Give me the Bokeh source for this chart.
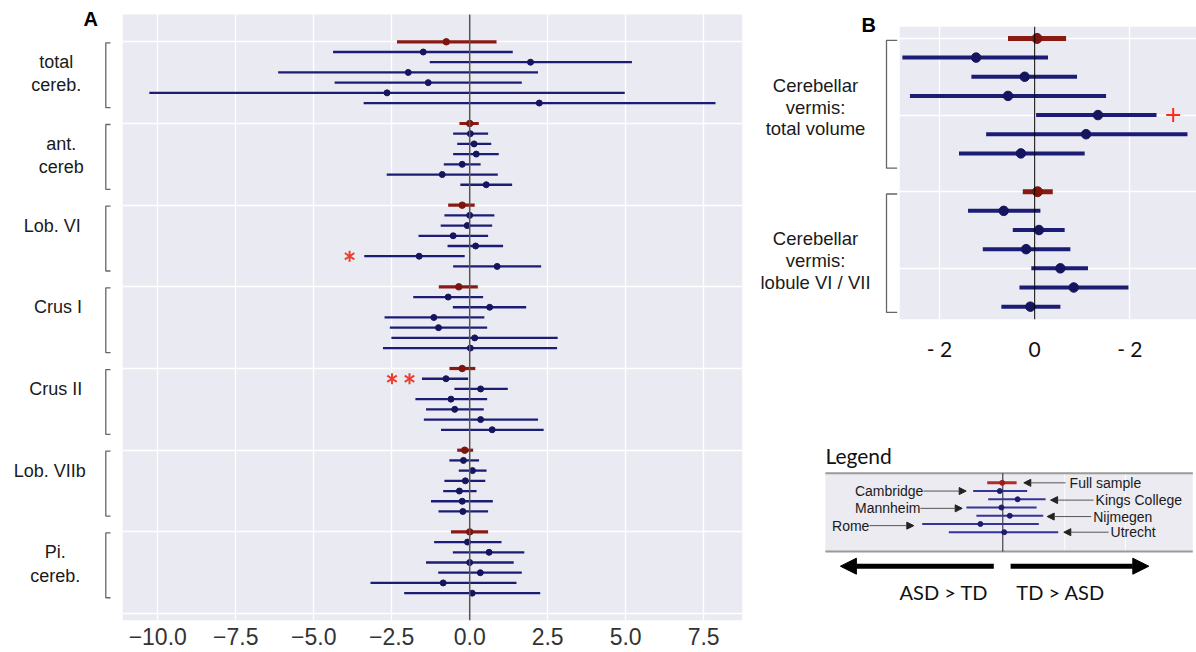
from bokeh.plotting import figure
from bokeh.models import Range1d, Arrow, NormalHead, BoxAnnotation, ColumnDataSource
from bokeh.layouts import row, column
from bokeh.embed import file_html
from bokeh.resources import INLINE
from bokeh.core.properties import value
import math

# ---------------- DATA ----------------
sites = ["Full sample", "Cambridge", "Kings College", "Mannheim", "Nijmegen", "Rome", "Utrecht"]

regions_A = ["total cereb.", "ant. cereb", "Lob. VI", "Crus I", "Crus II", "Lob. VIIb", "Pi. cereb."]
label_lines_A = [["total", "cereb."], ["ant.", "cereb"], ["Lob. VI"], ["Crus I"],
                 ["Crus II"], ["Lob. VIIb"], ["Pi.", "cereb."]]
est_A = [
    [-0.75, -1.49, 1.95, -1.97, -1.33, -2.65, 2.23],
    [0.00, 0.02, 0.14, 0.21, -0.24, -0.88, 0.53],
    [-0.24, 0.00, -0.08, -0.53, 0.19, -1.62, 0.88],
    [-0.35, -0.69, 0.64, -1.15, -1.00, 0.16, 0.02],
    [-0.24, -0.76, 0.35, -0.60, -0.48, 0.35, 0.72],
    [-0.16, -0.20, 0.09, -0.14, -0.33, -0.24, -0.22],
    [0.00, -0.07, 0.62, 0.00, 0.34, -0.85, 0.08],
]
lo_A = [
    [-2.33, -4.38, -1.28, -6.14, -4.33, -10.27, -3.40],
    [-0.33, -0.53, -0.40, -0.53, -0.83, -2.66, -0.30],
    [-0.69, -0.81, -0.93, -1.64, -0.71, -3.38, -0.53],
    [-0.99, -1.81, -0.54, -2.73, -2.56, -2.51, -2.78],
    [-0.65, -1.53, -0.49, -1.74, -1.40, -1.47, -0.92],
    [-0.40, -0.65, -0.35, -0.81, -0.85, -1.24, -1.00],
    [-0.60, -1.14, -0.54, -1.40, -1.01, -3.18, -2.10],
]
hi_A = [
    [0.86, 1.38, 5.20, 2.19, 1.67, 4.97, 7.88],
    [0.29, 0.59, 0.69, 0.93, 0.35, 0.90, 1.36],
    [0.16, 0.79, 0.72, 0.59, 1.07, -0.16, 2.29],
    [0.26, 0.43, 1.81, 0.47, 0.56, 2.82, 2.80],
    [0.18, -0.05, 1.22, 0.56, 0.45, 2.19, 2.37],
    [0.11, 0.30, 0.54, 0.50, 0.22, 0.74, 0.59],
    [0.59, 1.02, 1.75, 1.41, 1.67, 1.50, 2.26],
]
# significance asterisks: (region index, site index, x position)
stars_A = [(2, 5, -3.85), (4, 1, -2.49), (4, 1, -1.93)]
xticks_A = [-10.0, -7.5, -5.0, -2.5, 0.0, 2.5, 5.0, 7.5]
xtick_labels_A = ["\u221210.0", "\u22127.5", "\u22125.0", "\u22122.5", "0.0", "2.5", "5.0", "7.5"]

regions_B = ["Cerebellar vermis: total volume", "Cerebellar vermis: lobule VI / VII"]
label_lines_B = [["Cerebellar", "vermis:", "total volume"], ["Cerebellar", "vermis:", "lobule VI / VII"]]
est_B = [[0.05, -1.23, -0.21, -0.56, 1.33, 1.08, -0.29],
         [0.06, -0.65, 0.09, -0.18, 0.54, 0.82, -0.09]]
lo_B = [[-0.56, -2.78, -1.33, -2.62, 0.03, -1.02, -1.59],
        [-0.25, -1.40, -0.46, -1.09, -0.07, -0.32, -0.70]]
hi_B = [[0.66, 0.28, 0.89, 1.50, 2.56, 3.21, 1.05],
        [0.38, 0.12, 0.63, 0.75, 1.12, 1.97, 0.54]]
plus_B = [(0, 4, 2.91)]
xticks_B = [-2, 0, 2]
xtick_labels_B = ["- 2", "0", "- 2"]

# legend illustration values
est_L = [-0.03, -0.15, 0.74, -0.07, 0.35, -1.12, 0.07]
lo_L = [-0.78, -1.48, -0.73, -1.82, -1.32, -4.03, -2.70]
hi_L = [0.69, 1.22, 2.14, 1.69, 2.02, 1.80, 2.77]

# ---------------- STYLE ----------------
BG = "#EAEAF2"
BLUE = "#1c1c74"
BLUE_DOT = "#15155f"
RED = "#8a1a12"
RED_DOT = "#7d150f"
STAR = "#f03c2d"
SANS = "Liberation Sans"
CAL = "Lato"

GROUP_A = 8
GROUP_B = 8

def build_rows(est, lo, hi, step):
    red = dict(y=[], x=[], lo=[], hi=[])
    blue = dict(y=[], x=[], lo=[], hi=[])
    for g in range(len(est)):
        for s in range(len(est[g])):
            d = red if s == 0 else blue
            d["y"].append(g * step + s)
            d["x"].append(est[g][s])
            d["lo"].append(lo[g][s])
            d["hi"].append(hi[g][s])
    return ColumnDataSource(red), ColumnDataSource(blue)

def style_xaxis(ax, font, size, standoff, color="#333333", alpha=1.0):
    ax.axis_line_color = None
    ax.major_tick_line_color = None
    ax.minor_tick_line_color = None
    ax.major_label_text_font = font
    ax.major_label_text_font_size = size
    ax.major_label_text_color = color
    ax.major_label_text_alpha = alpha
    ax.major_label_standoff = standoff

# ---------------- PANEL A ----------------
H_A = 652
BOT_A = 32
ROW_TOP_A, ROW_BOT_A = -2.67, 56.68       # extent of the grey plotting area
yA = Range1d(ROW_BOT_A, -4.045)           # frame reaches the top of the page
pA = figure(width=633, height=H_A, x_range=Range1d(-11.13, 8.745), y_range=yA,
            output_backend="svg", toolbar_location=None, y_axis_location=None,
            min_border_left=0, min_border_right=13, min_border_top=0, min_border_bottom=BOT_A,
            background_fill_color="white", border_fill_color="white", outline_line_color=None)
pA.add_layout(BoxAnnotation(top=ROW_TOP_A, bottom=ROW_BOT_A, fill_color=BG, fill_alpha=1,
                            line_color=None, level="image"))
pA.xaxis.ticker = xticks_A
pA.xaxis.major_label_overrides = {t: l for t, l in zip(xticks_A, xtick_labels_A)}
style_xaxis(pA.xaxis[0], SANS, "23px", 1)
pA.xgrid.grid_line_color = "white"
pA.xgrid.grid_line_width = 1.3
pA.ygrid.ticker = [g * GROUP_A for g in range(len(regions_A) + 1)]
pA.ygrid.grid_line_color = "white"
pA.ygrid.grid_line_width = 1.3

redA, blueA = build_rows(est_A, lo_A, hi_A, GROUP_A)
pA.segment(x0="lo", y0="y", x1="hi", y1="y", source=blueA, line_color=BLUE, line_width=2.3)
pA.segment(x0="lo", y0="y", x1="hi", y1="y", source=redA, line_color=RED, line_width=3.2)
pA.scatter(x="x", y="y", source=blueA, size=6, fill_color=BLUE_DOT, line_color=BLUE_DOT)
pA.scatter(x="x", y="y", source=redA, size=6.5, fill_color=RED_DOT, line_color=RED_DOT)
pA.segment(x0=[0], y0=[ROW_TOP_A], x1=[0], y1=[ROW_BOT_A], line_color="#555555", line_width=1.5)
sx = [s[2] for s in stars_A]
sy = [s[0] * GROUP_A + s[1] for s in stars_A]
pA.scatter(x=sx, y=sy, marker="y", size=11, line_color=STAR, line_width=2)
pA.scatter(x=sx, y=sy, marker="y", size=11, angle=math.pi, line_color=STAR, line_width=2)

# label column for A (shares the y range; invisible axis keeps the frames aligned)
lA = figure(width=122, height=H_A, x_range=Range1d(0, 122), y_range=yA,
            output_backend="svg", toolbar_location=None, y_axis_location=None,
            min_border_left=0, min_border_right=0, min_border_top=0, min_border_bottom=BOT_A,
            background_fill_color="white", border_fill_color="white", outline_line_color=None)
lA.xaxis.ticker = [61]
lA.xaxis.major_label_overrides = {61: "0.0"}
style_xaxis(lA.xaxis[0], SANS, "23px", 1, alpha=0)
lA.xgrid.visible = False
lA.ygrid.visible = False
cx_A = [55.8, 60.8, 51.8, 57.5, 55.3, 49.3, 54.8]
tx, ty, tt = [], [], []
bx, by = [], []
for g, lines in enumerate(label_lines_A):
    for i, ln in enumerate(lines):
        tx.append(cx_A[g]); ty.append(g * GROUP_A + 2.0 + 2.28 * i); tt.append(ln)
    top = g * GROUP_A + 0.1
    bot = g * GROUP_A + 6.45
    bx.append([110, 105.3, 105.3, 110]); by.append([top, top, bot, bot])
lA.text(x=tx, y=ty, text=tt, text_align="center", text_baseline="middle",
        text_font=value(SANS), text_font_size="18px", text_color="#1a1a1a")
lA.multi_line(xs=bx, ys=by, line_color="#666666", line_width=1.3)
lA.text(x=[90.3], y=[-2.2], text=["A"], text_align="center", text_baseline="middle",
        text_font=value(SANS), text_font_size="20px", text_font_style="bold", text_color="black")

# ---------------- PANEL B ----------------
H_B = 363
BOT_B = 35
ROW_TOP_B, ROW_BOT_B = -0.61, 14.67
yB = Range1d(ROW_BOT_B, -1.98)
pB = figure(width=297, height=H_B, x_range=Range1d(-2.84, 3.40), y_range=yB,
            output_backend="svg", toolbar_location=None, y_axis_location=None,
            min_border_left=0, min_border_right=0, min_border_top=0, min_border_bottom=BOT_B,
            background_fill_color="white", border_fill_color="white", outline_line_color=None)
pB.add_layout(BoxAnnotation(top=ROW_TOP_B, bottom=ROW_BOT_B, fill_color=BG, fill_alpha=1,
                            line_color=None, level="image"))
pB.xaxis.ticker = xticks_B
pB.xaxis.major_label_overrides = {t: l for t, l in zip(xticks_B, xtick_labels_B)}
style_xaxis(pB.xaxis[0], CAL, "21px", 10, color="#111111")
pB.xgrid.grid_line_color = "white"
pB.xgrid.grid_line_width = 1.3
pB.ygrid.ticker = [0, 4, 8, 12]
pB.ygrid.grid_line_color = "white"
pB.ygrid.grid_line_width = 1.3

redB, blueB = build_rows(est_B, lo_B, hi_B, GROUP_B)
pB.segment(x0="lo", y0="y", x1="hi", y1="y", source=blueB, line_color=BLUE, line_width=4)
pB.segment(x0="lo", y0="y", x1="hi", y1="y", source=redB, line_color=RED, line_width=5)
pB.scatter(x="x", y="y", source=blueB, size=9.5, fill_color=BLUE_DOT, line_color=BLUE_DOT)
pB.scatter(x="x", y="y", source=redB, size=10, fill_color=RED_DOT, line_color=RED_DOT)
pB.segment(x0=[0], y0=[ROW_TOP_B], x1=[0], y1=[ROW_BOT_B], line_color="black", line_width=1)
pB.scatter(x=[p[2] for p in plus_B], y=[p[0] * GROUP_B + p[1] for p in plus_B],
           marker="cross", size=14, line_color="#ff2a1a", line_width=2)

lB = figure(width=144, height=H_B, x_range=Range1d(0, 144), y_range=yB,
            output_backend="svg", toolbar_location=None, y_axis_location=None,
            min_border_left=0, min_border_right=0, min_border_top=0, min_border_bottom=BOT_B,
            background_fill_color="white", border_fill_color="white", outline_line_color=None)
lB.xaxis.ticker = [72]
lB.xaxis.major_label_overrides = {72: "0"}
style_xaxis(lB.xaxis[0], CAL, "21px", 10, alpha=0)
lB.xgrid.visible = False
lB.ygrid.visible = False
br_B = [(0.1, 6.77), (8.12, 14.3)]
tx, ty, tt, bx, by = [], [], [], [], []
for g, lines in enumerate(label_lines_B):
    for i, ln in enumerate(lines):
        tx.append(60); ty.append(g * GROUP_B + 2.44 + 1.14 * i); tt.append(ln)
    bx.append([141.7, 131, 131, 141.7]); by.append([br_B[g][0], br_B[g][0], br_B[g][1], br_B[g][1]])
lB.text(x=tx, y=ty, text=tt, text_align="center", text_baseline="middle",
        text_font=value(SANS), text_font_size="18.5px", text_color="#1a1a1a")
lB.multi_line(xs=bx, ys=by, line_color="#666666", line_width=1.3)
lB.text(x=[113.3], y=[-0.71], text=["B"], text_align="center", text_baseline="middle",
        text_font=value(SANS), text_font_size="20px", text_font_style="bold", text_color="black")

# ---------------- LEGEND ----------------
H_L = H_A - H_B
leg = figure(width=441, height=H_L, x_range=Range1d(-12.365, 9.685),
             y_range=Range1d(-14.5 + H_L / 8.23, -14.5),
             output_backend="svg", toolbar_location=None, x_axis_location=None, y_axis_location=None,
             min_border=0, background_fill_color="white", border_fill_color="white", outline_line_color=None)
leg.xgrid.visible = False
leg.ygrid.visible = False
leg.quad(left=-8.87, right=9.5, top=-1.17, bottom=8.35, fill_color="#EBEBF1", line_color=None)
leg.segment(x0=[3.1, 6.13], y0=[-1.17, -1.17], x1=[3.1, 6.13], y1=[8.35, 8.35], line_color="white", line_width=1)
leg.segment(x0=[-8.87, -8.87], y0=[-1.17, 8.35], x1=[9.5, 9.5], y1=[-1.17, 8.35], line_color="#9a9a9a", line_width=2)
leg.segment(x0=[0], y0=[-1.17], x1=[0], y1=[8.35], line_color="#222222", line_width=1)
rows = list(range(len(sites)))
leg.segment(x0=lo_L[1:], y0=rows[1:], x1=hi_L[1:], y1=rows[1:], line_color="#34349a", line_width=2)
leg.segment(x0=lo_L[:1], y0=rows[:1], x1=hi_L[:1], y1=rows[:1], line_color="#b22d22", line_width=3)
leg.scatter(x=est_L[1:], y=rows[1:], size=5, fill_color="#1c1c70", line_color="#1c1c70")
leg.scatter(x=est_L[:1], y=rows[:1], size=5, fill_color="#9a2018", line_color="#9a2018")

# arrows & site names: (site index, side, text x, arrow start, arrow end, row)
ann = [
    (0, "right", 3.34, 3.14, 1.05, 0.0),
    (1, "left", -3.97, -3.97, -1.83, 1.0),
    (2, "right", 4.64, 4.54, 2.39, 2.1),
    (3, "left", -4.12, -4.12, -2.03, 3.1),
    (4, "right", 4.52, 4.42, 2.22, 4.1),
    (5, "left", -6.67, -6.67, -4.45, 5.2),
    (6, "right", 5.39, 5.29, 3.05, 6.0),
]
for s, side, xt, xa0, xa1, r in ann:
    leg.add_layout(Arrow(end=NormalHead(size=7, fill_color="#222222", line_color="#222222"),
                         x_start=xa0, y_start=r, x_end=xa1, y_end=r, line_color="#555555", line_width=1))
    leg.text(x=[xt], y=[r], text=[sites[s]], text_align="left" if side == "right" else "right",
             text_baseline="middle", text_font=value(SANS), text_font_size="14px", text_color="#1a1a1a")

leg.add_layout(Arrow(end=NormalHead(size=16, fill_color="black", line_color="black"),
                     x_start=-0.45, y_start=10.13, x_end=-8.12, y_end=10.13, line_color="black", line_width=5))
leg.add_layout(Arrow(end=NormalHead(size=16, fill_color="black", line_color="black"),
                     x_start=0.39, y_start=10.13, x_end=7.3, y_end=10.13, line_color="black", line_width=5))
leg.text(x=[-2.95, 2.89], y=[13.3, 13.3], text=["ASD > TD", "TD > ASD"], text_align="center",
         text_baseline="middle", text_font=value(CAL), text_font_size="20px", text_color="#111111")
leg.text(x=[-8.87], y=[-3.33], text=["Legend"], text_align="left", text_baseline="middle",
         text_font=value(CAL), text_font_size="21px", text_color="#111111")

layout = row(lA, pA, column(row(lB, pB), leg))
open("out.html", "w").write(file_html(layout, INLINE))
